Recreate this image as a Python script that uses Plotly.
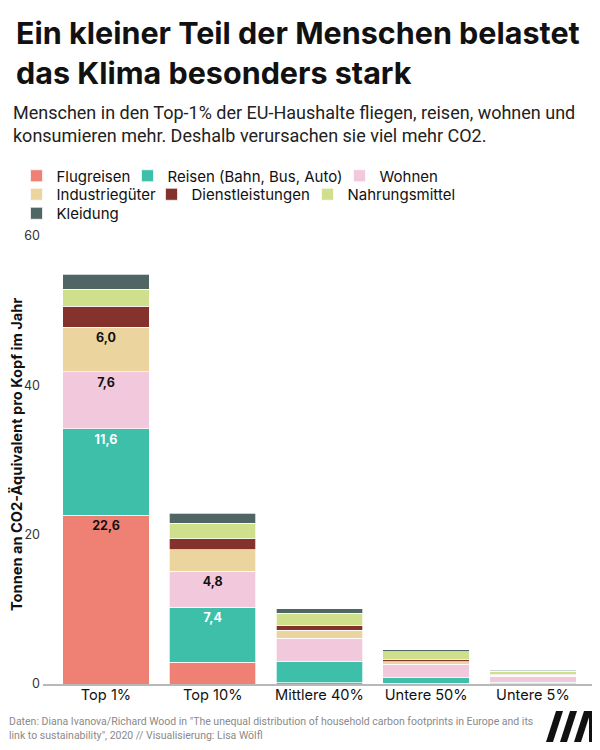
import plotly.graph_objects as go

categories = ["Top 1%", "Top 10%", "Mittlere 40%", "Untere 50%", "Untere 5%"]

series_names = ["Flugreisen", "Reisen (Bahn, Bus, Auto)", "Wohnen",
                "Industriegüter", "Dienstleistungen", "Nahrungsmittel", "Kleidung"]
flugreisen = [22.6, 2.9, 0.2, 0.1, 0.05]
reisen = [11.6, 7.4, 2.8, 0.75, 0.2]
wohnen = [7.6, 4.8, 3.1, 1.8, 0.8]
industrie = [6.0, 2.85, 1.1, 0.35, 0.15]
dienst = [2.8, 1.5, 0.65, 0.3, 0.12]
nahrung = [2.3, 2.1, 1.6, 1.0, 0.4]
kleidung = [2.0, 1.3, 0.6, 0.3, 0.12]
values = [flugreisen, reisen, wohnen, industrie, dienst, nahrung, kleidung]

# which segments carry a value label
label_mask = [
    [True, False, False, False, False],
    [True, True, False, False, False],
    [True, True, False, False, False],
    [True, False, False, False, False],
    [False] * 5, [False] * 5, [False] * 5,
]
colors = ["#EF8074", "#3DBFAA", "#F1C8DC", "#ECD49F", "#85312C", "#D0DF8C", "#4F6664"]
label_colors = ["#111111", "#ffffff", "#111111", "#111111", "#111111", "#111111", "#111111"]

# page has an 8px body margin; figure is sized so that it fills the 600x750 window
OFF = 8
W, H = 600 - OFF, 750 - OFF
L, R, T, B = 43, 597, 236, 684          # plot area in window pixels
PW, PH = R - L, B - T


def px(x):
    return (x - L) / PW


def py(y):
    return (B - y) / PH


GEO = "Inter"

# legend layout: one legend per entry (window pixels of swatch left / row centre)
legend_ids = ["legend", "legend2", "legend3", "legend4", "legend5", "legend6", "legend7"]
legend_left = [31, 142, 354, 31, 166, 322, 31]
legend_row = [174.5, 174.5, 174.5, 193, 193, 193, 212]

fig = go.Figure()
for name, vals, mask, col, lc, lg in zip(series_names, values, label_mask, colors,
                                          label_colors, legend_ids):
    text = [f"{v:.1f}".replace(".", ",") if m else "" for v, m in zip(vals, mask)]
    fig.add_trace(go.Bar(
        x=categories, y=vals, name=name, marker_color=col,
        marker_line=dict(color="white", width=0.7),
        text=text, textposition="inside", insidetextanchor="end", textangle=0,
        textfont=dict(color=lc, size=12.5, family=GEO, weight=700),
        legend=lg,
    ))

legend_common = dict(orientation="h", xref="paper", yref="paper", xanchor="left",
                     yanchor="middle", font=dict(family=GEO, size=15, color="#111"),
                     bgcolor="rgba(0,0,0,0)", itemwidth=30, itemclick=False)
legends = {}
for lg, lx, ly in zip(legend_ids, legend_left, legend_row):
    legends[lg] = dict(x=px(lx - 14.5), y=py(ly + 1.5), **legend_common)

fig.update_layout(
    width=W, height=H,
    margin=dict(l=L - OFF, r=W - (R - OFF), t=T - OFF, b=H - (B - OFF), pad=0),
    paper_bgcolor="white", plot_bgcolor="white",
    barmode="stack", bargap=0.19,
    showlegend=True,
    xaxis=dict(range=[-0.59, 4.6], showline=True, linecolor="#b8b8b8", linewidth=1.5,
               ticks="", showgrid=False, zeroline=False, ticklabelstandoff=-3,
               tickfont=dict(family=GEO, size=14.6, color="#111")),
    yaxis=dict(range=[0, 60], tickvals=[0, 20, 40, 60], showgrid=False, zeroline=False,
               showline=False, ticks="", ticklabelstandoff=2,
               tickfont=dict(family=GEO, size=12.5, color="#333")),
    annotations=[
        dict(text="Ein kleiner Teil der Menschen belastet<br>das Klima besonders stark",
             x=px(14), y=py(12), xref="paper", yref="paper", xanchor="left", yanchor="top",
             align="left", showarrow=False,
             font=dict(family=GEO, size=30.5, color="#111", weight=700)),
        dict(text="Menschen in den Top-1% der EU-Haushalte fliegen, reisen, wohnen und<br>"
                  "konsumieren mehr. Deshalb verursachen sie viel mehr CO2.",
             x=px(11), y=py(100), xref="paper", yref="paper", xanchor="left", yanchor="top",
             align="left", showarrow=False,
             font=dict(family="Roboto", size=18, color="#222")),
        dict(text="Tonnen an CO2-Äquivalent pro Kopf im Jahr",
             x=px(16), y=py(455), xref="paper", yref="paper", xanchor="center",
             yanchor="middle", textangle=-90, showarrow=False,
             font=dict(family=GEO, size=14.6, color="#111", weight=700)),
        dict(text="Daten: Diana Ivanova/Richard Wood in \"The unequal distribution of household "
                  "carbon footprints in Europe and its<br>link to sustainability\", 2020 // "
                  "Visualisierung: Lisa Wölfl",
             x=px(7), y=py(713), xref="paper", yref="paper", xanchor="left", yanchor="top",
             align="left", showarrow=False,
             font=dict(family="Roboto", size=10.5, color="#8a8a8a")),
    ],
    **legends,
)

# logo (decorative)
logo_bars = [
    (546, 553, 556, 563),
    (560, 567, 570, 577),
    (574, 581, 584, 591),
]
shapes = []
y0, y1 = 742, 711
for bx0, bx1, tx0, tx1 in logo_bars:
    path = (f"M {px(bx0)},{py(y0)} L {px(bx1)},{py(y0)} L {px(tx1)},{py(y1)} "
            f"L {px(tx0)},{py(y1)} Z")
    shapes.append(dict(type="path", path=path, xref="paper", yref="paper",
                       fillcolor="#111", line=dict(width=0)))
shapes.append(dict(type="rect", x0=px(589), x1=px(596), y0=py(742), y1=py(711),
                   xref="paper", yref="paper", fillcolor="#111", line=dict(width=0)))
fig.update_layout(shapes=shapes)

fig.write_html("out.html")
